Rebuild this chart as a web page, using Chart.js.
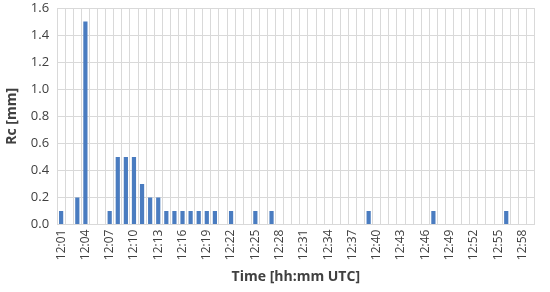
<!DOCTYPE html>
<html>
<head>
<meta charset="utf-8">
<script src="https://cdn.jsdelivr.net/npm/chart.js@4"></script>
<style>
  html, body { margin: 0; padding: 0; background: #fff; }
  #wrap { width: 550px; height: 292px; }
</style>
</head>
<body>
<div id="wrap"><canvas id="rcChart" width="550" height="292"></canvas></div>
<script>
// minutes 12:01 .. 12:59
const minutes = [];
for (let m = 1; m <= 59; m++) minutes.push('12:' + String(m).padStart(2, '0'));

// Rc [mm] per minute
const rcValues = [
  0.1, 0, 0.2, 1.5, 0, 0, 0.1, 0.5, 0.5, 0.5,   // 12:01-12:10
  0.3, 0.2, 0.2, 0.1, 0.1, 0.1, 0.1, 0.1, 0.1, 0.1, // 12:11-12:20
  0, 0.1, 0, 0, 0.1, 0, 0.1, 0, 0, 0,           // 12:21-12:30
  0, 0, 0, 0, 0, 0, 0, 0, 0.1, 0,               // 12:31-12:40
  0, 0, 0, 0, 0, 0, 0.1, 0, 0, 0,               // 12:41-12:50
  0, 0, 0, 0, 0, 0.1, 0, 0, 0                   // 12:51-12:59
];

const yTicks = [0, 0.2, 0.4, 0.6, 0.8, 1.0, 1.2, 1.4, 1.6];

const fontFamily = "'Open Sans', 'Liberation Sans', sans-serif";
const gridColor = '#d9d9d9';

const ctx = document.getElementById('rcChart').getContext('2d');
new Chart(ctx, {
  type: 'bar',
  data: {
    labels: minutes,
    datasets: [{
      label: 'Rc',
      data: rcValues,
      backgroundColor: '#4a7cc0',
      borderWidth: 0,
      barPercentage: 0.52,
      categoryPercentage: 1.0
    }]
  },
  options: {
    responsive: false,
    animation: false,
    layout: { padding: { top: 8, right: 11, left: 4, bottom: 0 } },
    plugins: {
      legend: { display: false },
      tooltip: { enabled: false }
    },
    scales: {
      x: {
        grid: { color: gridColor, offset: true, drawTicks: false },
        border: { color: gridColor },
        ticks: {
          autoSkip: false,
          minRotation: 90,
          maxRotation: 90,
          padding: 5,
          color: '#404040',
          font: { family: fontFamily, size: 12 },
          callback: (v, i) => (i % 3 === 0 ? minutes[i] : '')
        },
        title: {
          display: true,
          text: 'Time [hh:mm UTC]',
          color: '#404040',
          font: { family: fontFamily, size: 14, weight: 'bold' },
          padding: { top: 3, bottom: 7 }
        }
      },
      y: {
        min: 0,
        max: 1.6,
        grid: { color: gridColor, drawTicks: false },
        border: { color: gridColor },
        afterBuildTicks: axis => { axis.ticks = yTicks.map(v => ({ value: v })); },
        afterFit: axis => { axis.paddingTop = 0; },
        ticks: {
          padding: 8,
          color: '#404040',
          font: { family: fontFamily, size: 13 },
          callback: v => Number(v).toFixed(1)
        },
        title: {
          display: true,
          text: 'Rc [mm]',
          color: '#404040',
          font: { family: fontFamily, size: 14, weight: 'bold' },
          padding: { top: 0, bottom: 2 }
        }
      }
    }
  }
});
</script>
</body>
</html>
